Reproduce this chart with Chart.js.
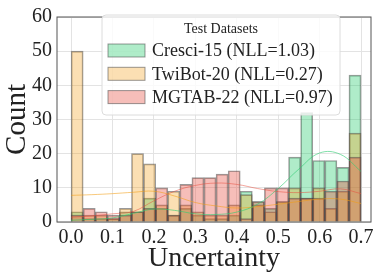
<!DOCTYPE html>
<html>
<head>
<meta charset="utf-8">
<script src="https://cdn.jsdelivr.net/npm/chart.js@4/dist/chart.umd.min.js"></script>
<style>
  html, body { margin: 0; padding: 0; background: #fff; }
  #wrap { width: 379px; height: 277px; }
</style>
</head>
<body>
<div id="wrap"><canvas id="histChart" width="379" height="277"></canvas></div>
<script>
// histogram bins: 24 bins between 0 and 0.7
const binStart = 0;
const binWidth = 0.7 / 24;
const cresci = [3, 1, 1, 1, 3, 3, 7, 4, 2, 4, 2, 1, 1, 2, 9, 6, 4, 6, 19, 32, 18, 18, 16, 43];
const twibot = [50, 2, 2, 1, 4, 20, 17, 5, 9, 5, 3, 2, 2, 5, 8, 5, 3, 6, 10, 7, 10, 4, 9, 26];
const mgtab  = [2, 4, 3, 2, 2, 3, 4, 10, 2, 11, 13, 13, 14, 15, 1, 6, 10, 10, 7, 7, 7, 9, 12, 19];

// density curves (x, count)
const kdeX      = [0.0, 0.05, 0.1, 0.15, 0.2, 0.25, 0.3, 0.35, 0.4, 0.45, 0.5, 0.55, 0.6, 0.65, 0.7];
const cresciKde = [0.5, 0.8, 1.2, 2.5, 3.8, 3.4, 2.4, 2.2, 2.9, 5.2, 9.8, 15.5, 20.2, 19.8, 14.8];
const twibotKde = [7.8, 8.0, 8.3, 8.7, 9.0, 7.6, 5.7, 4.7, 4.1, 4.5, 5.2, 6.0, 6.7, 6.7, 5.4];
const mgtabKde  = [1.4, 1.8, 2.4, 3.1, 6.2, 9.0, 10.7, 11.4, 11.0, 9.8, 8.9, 8.6, 9.0, 9.7, 8.3];

const yTicks = [0, 10, 20, 30, 40, 50, 60];
const xTicks = [0.0, 0.1, 0.2, 0.3, 0.4, 0.5, 0.6, 0.7];

const seriesNames = ['Cresci-15 (NLL=1.03)', 'TwiBot-20 (NLL=0.27)', 'MGTAB-22 (NLL=0.97)'];
const fills = ['rgba(46,204,113,0.38)', 'rgba(243,156,18,0.32)', 'rgba(231,76,60,0.36)'];
const lines = ['rgba(46,204,113,0.6)', 'rgba(243,156,18,0.55)', 'rgba(231,76,60,0.5)'];
const barBorder = 'rgba(70,70,70,0.55)';

const serif = "'Liberation Serif', 'DejaVu Serif', serif";

function toBins(counts) {
  return counts.map((c, i) => ({ x: binStart + (i + 0.5) * binWidth, y: c }));
}
function toCurve(ys) {
  return ys.map((y, i) => ({ x: kdeX[i], y: y }));
}

const barSets = [cresci, twibot, mgtab].map((d, i) => ({
  type: 'bar',
  label: seriesNames[i],
  data: toBins(d),
  backgroundColor: fills[i],
  borderColor: barBorder,
  borderWidth: 1,
  borderSkipped: 'bottom',
  barPercentage: 1,
  categoryPercentage: 1,
  grouped: false,
  order: 3 - i
}));

const lineSets = [cresciKde, twibotKde, mgtabKde].map((d, i) => ({
  type: 'line',
  label: 'kde' + i,
  data: toCurve(d),
  borderColor: lines[i],
  borderWidth: 1,
  pointRadius: 0,
  tension: 0.4,
  fill: false,
  order: 0
}));

// frame round the plot + legend box drawn on top of the bars
const framePlugin = {
  id: 'frame',
  afterDatasetsDraw(chart) {
    const a = chart.chartArea;
    const ctx = chart.ctx;
    ctx.save();
    ctx.strokeStyle = '#555';
    ctx.lineWidth = 1;
    ctx.strokeRect(a.left, a.top, a.right - a.left, a.bottom - a.top);
    ctx.restore();
  },
  afterDraw(chart) {
    const ctx = chart.ctx;
    const x0 = 102, y0 = 15, w = 238, h = 100;
    ctx.save();
    ctx.beginPath();
    ctx.roundRect(x0, y0, w, h, 4);
    ctx.fillStyle = 'rgba(255,255,255,0.8)';
    ctx.fill();
    ctx.strokeStyle = '#dcdcdc';
    ctx.lineWidth = 1;
    ctx.stroke();

    ctx.fillStyle = '#222';
    ctx.textAlign = 'center';
    ctx.textBaseline = 'middle';
    ctx.font = '14px ' + serif;
    ctx.fillText('Test Datasets', x0 + w / 2, 29);

    ctx.textAlign = 'left';
    ctx.font = '18px ' + serif;
    for (let i = 0; i < seriesNames.length; i++) {
      const cy = 50.5 + i * 23.3;
      ctx.fillStyle = fills[i];
      ctx.fillRect(108, cy - 6.5, 37, 13);
      ctx.strokeStyle = barBorder;
      ctx.strokeRect(108, cy - 6.5, 37, 13);
      ctx.fillStyle = '#222';
      ctx.fillText(seriesNames[i], 152, cy + 1);
    }
    ctx.restore();
  }
};

new Chart(document.getElementById('histChart').getContext('2d'), {
  type: 'bar',
  data: { datasets: barSets.concat(lineSets) },
  options: {
    responsive: false,
    animation: false,
    devicePixelRatio: 1,
    layout: { padding: { top: 10, right: 8, left: 0, bottom: 0 } },
    plugins: {
      legend: { display: false },
      tooltip: { enabled: false }
    },
    scales: {
      x: {
        type: 'linear',
        min: -0.034,
        max: 0.724,
        offset: false,
        afterBuildTicks: (scale) => { scale.ticks = xTicks.map(v => ({ value: v })); },
        afterFit: (scale) => { scale.height = 55; },
        grid: { color: '#e3e3e3', drawTicks: false, offset: false },
        border: { display: false },
        ticks: {
          padding: 4,
          color: '#222',
          font: { family: serif, size: 20 },
          callback: (v) => Number(v).toFixed(1)
        },
        title: {
          display: true,
          text: 'Uncertainty',
          color: '#222',
          font: { family: serif, size: 28 },
          padding: { top: 0, bottom: 2 }
        }
      },
      y: {
        min: 0,
        max: 60,
        afterBuildTicks: (scale) => { scale.ticks = yTicks.map(v => ({ value: v })); },
        afterFit: (scale) => { scale.width = 57; },
        grid: { color: '#e3e3e3', drawTicks: false },
        border: { display: false },
        ticks: {
          padding: 5,
          color: '#222',
          font: { family: serif, size: 20 }
        },
        title: {
          display: true,
          text: 'Count',
          color: '#222',
          font: { family: serif, size: 29 },
          padding: { top: 0, bottom: 0 }
        }
      }
    }
  },
  plugins: [framePlugin]
});
</script>
</body>
</html>
